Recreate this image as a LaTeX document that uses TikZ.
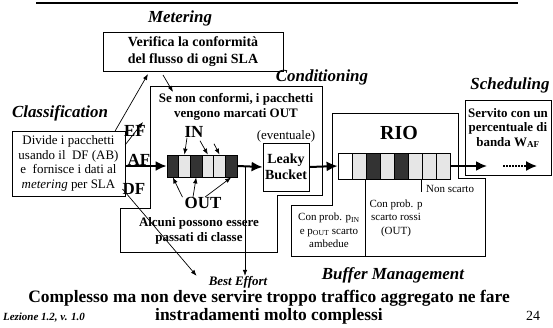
\documentclass[tikz,border=0pt]{standalone}
\usepackage{fontspec}
\setmainfont{Liberation Serif}
\usetikzlibrary{arrows.meta}
\definecolor{dk}{RGB}{51,51,51}
\definecolor{lt}{RGB}{230,230,230}

\begin{document}
\begin{tikzpicture}[x=1bp,y=-1bp,
  lbltxt/.style={font=\fontsize{17}{19}\selectfont\bfseries\itshape,inner sep=0pt},
  boldtxt/.style={font=\fontsize{13}{14.5}\selectfont\bfseries,align=center,inner sep=0pt},
  regtxt/.style={font=\fontsize{13}{14.5}\selectfont,align=center,inner sep=0pt},
  smalltxt/.style={font=\fontsize{11}{13.5}\selectfont,align=center,inner sep=0pt},
  bigtxt/.style={font=\fontsize{17}{19}\selectfont\bfseries,inner sep=0pt},
  cell/.style={draw,line width=0.8bp,minimum height=22bp,inner sep=0pt},
  tarr/.style={-{Latex[length=6bp,width=4.5bp]},line width=0.7bp},
  farr/.style={-{Latex[length=11bp,width=10bp]},line width=2bp}]
\useasboundingbox (0,0) rectangle (553,327);
\draw[line width=2.5bp] (36,3) -- (518,3);

\node[lbltxt] (metlbl) at (180,18) {Metering};
\node[draw,boldtxt,font=\fontsize{14}{17}\selectfont\bfseries,minimum width=180bp,minimum height=39bp] (meter) at (193,51.5) {Verifica la conformità\\del flusso di ogni SLA};

\node[lbltxt] (clslbl) at (60,113) {Classification};
\node[draw,regtxt,minimum width=113bp,minimum height=65bp] (cls) at (68.5,163.5) {Divide i pacchetti\\usando il\ \ DF (AB)\\e\ \ fornisce i dati al\\\textit{metering} per SLA};

\draw[line width=0.8bp] (150,86) -- (322,86) -- (322,195) -- (277,195) -- (277,252) -- (120,252) -- (120,208) -- (150,208) -- cycle;
\node[lbltxt] (condlbl) at (322,77) {Conditioning};
\node[boldtxt] (cond) at (236,107) {Se non conformi, i pacchetti\\vengono marcati OUT};
\node[boldtxt] (alcuni) at (199,231) {Alcuni possono essere\\passati di classe};

\foreach \c [count=\i from 0] in {dk,lt,dk,lt,lt,dk}
  \node[cell,fill=\c,minimum width=11.67bp] (q\i) at ({172.83+11.67*\i},166) {};
\node[bigtxt] (in) at (194,132) {IN};
\node[bigtxt] (out) at (203,203) {OUT};
\draw[tarr] ([xshift=-7bp]in.south) -- (q1.north);
\draw[tarr] ([xshift=6bp,yshift=-3bp]in.south) -- (q3.north);
\draw[tarr] ([xshift=20bp,yshift=-6bp]in.south) -- (q4.north);
\draw[tarr] ([xshift=-2bp]out.north west) -- (q0.south);
\draw[tarr] ([xshift=-10bp]out.north) -- (q2.south);
\draw[tarr] ([xshift=2bp]out.north) -- (q5.south);

\node[regtxt] (event) at (286,136) {(eventuale)};
\node[draw,fill=white,boldtxt,font=\fontsize{14}{16}\selectfont\bfseries,minimum width=46bp,minimum height=48bp,line width=0.8bp] (leaky) at (286,167) {Leaky\\Bucket};

\node[bigtxt] (ef) at (135,131) {EF};
\node[bigtxt] (af) at (139,160) {AF};
\node[bigtxt] (df) at (134,189) {DF};
\coordinate (m1) at (148,74);
\coordinate (m2) at (163,75);
\coordinate (c1) at (173,92);
\coordinate (efend) at (143,122);
\draw[tarr] ([xshift=-10bp]cls.north east) -- (m1);
\draw[tarr] (m2) -- (c1);
\draw[tarr] ([yshift=-14bp]cls.north east) -- (efend);
\draw[farr] (cls.east |- q0.west) -- (q0.west);

\draw[line width=0.8bp] (332,113) -- (458,113) -- (458,178) -- (485,178) -- (485,256) -- (291,256) -- (291,205) -- (332,205) -- cycle;
\node[bigtxt,font=\fontsize{20}{22}\selectfont\bfseries] (rio) at (399,133) {RIO};
\foreach \c [count=\i from 0] in {white,lt,dk,lt,dk,lt,lt,lt}
  \node[cell,fill=\c,minimum width=14bp,minimum height=26bp] (r\i) at ({345+14*\i},166) {};
\draw[line width=0.8bp] (r2.south west) -- ++(0,77);
\draw[line width=0.8bp] (r6.south west) -- ++(0,13);
\node[smalltxt,anchor=west] (nons) at (426,189) {Non scarto};
\node[smalltxt] (pout) at (396,218) {Con prob. p\\scarto rossi\\(OUT)};
\node[smalltxt] (pin) at (329,230.5) {Con prob. p\textsubscript{IN}\\e p\textsubscript{OUT} scarto\\ambedue};
\node[lbltxt] (buflbl) at (393,275) {Buffer Management};

\node[lbltxt] (schlbl) at (510,85) {Scheduling};
\node[draw,line width=0.8bp,minimum width=86.5bp,minimum height=75bp] (sched) at (508.25,137.5) {};
\node[boldtxt] (servito) at (508,128) {Servito con un\\percentuale di\\banda W\textsubscript{AF}};
\coordinate (schin) at (487,166);
\coordinate (dots) at (503,166);
\coordinate (schout) at (537,166);

\draw[farr] (q5.east) -- (leaky.west);
\draw[farr] (leaky.east) -- (r0.west);
\draw[farr] (r7.east) -- (schin);
\draw[-{Latex[length=11bp,width=10bp]},line width=1.5bp,dash pattern=on 1.5bp off 1.5bp] (dots) -- (schout);

\node[font=\fontsize{13}{15}\selectfont\bfseries\itshape,inner sep=0pt] (be) at (238,282) {Best Effort};
\coordinate (split) at (245,166);
\draw[tarr] (split) -- (split |- be.north);
\draw[tarr] (df.west) -- ([xshift=-12bp]be.north west);

\node[font=\fontsize{17.5}{18}\selectfont\bfseries,align=center,inner sep=0pt] (concl) at (269,307) {Complesso ma non deve servire troppo traffico aggregato ne fare\\instradamenti molto complessi};
\node[font=\fontsize{11}{12}\selectfont\bfseries\itshape,inner sep=0pt] (lez) at (44,318) {Lezione 1.2, v. 1.0};
\node[font=\fontsize{14}{16}\selectfont,inner sep=0pt] (pg) at (533,316) {24};
\end{tikzpicture}
\end{document}
